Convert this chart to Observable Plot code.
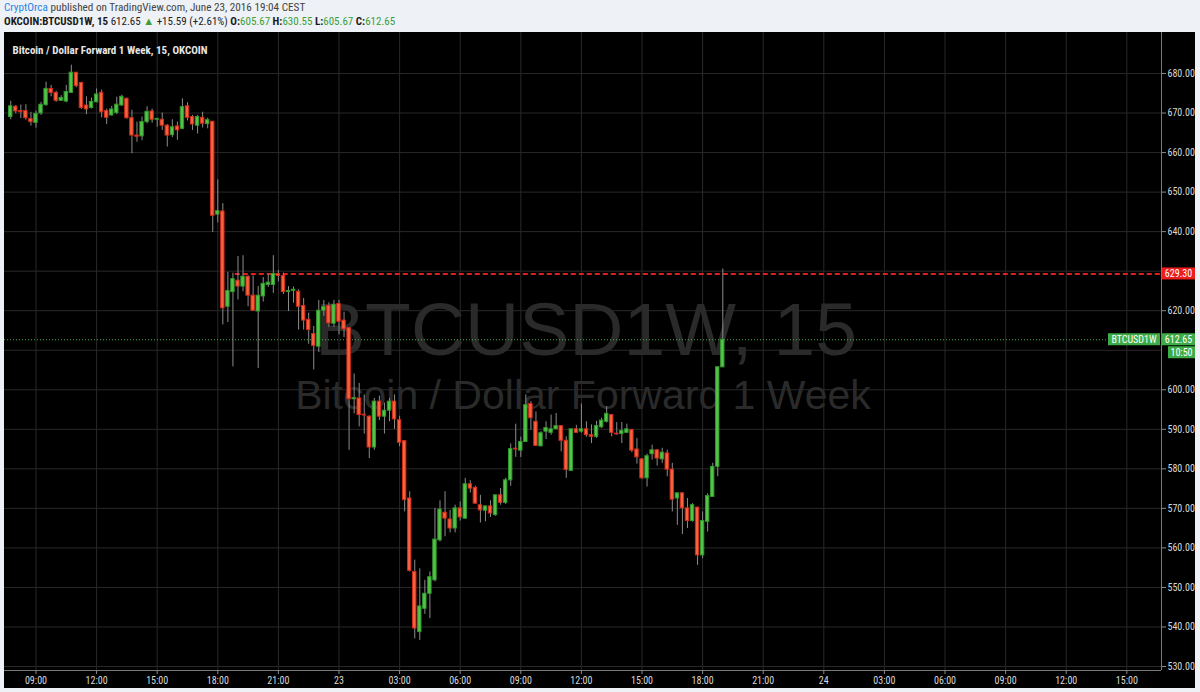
<!DOCTYPE html>
<html>
<head>
<meta charset="utf-8">
<script src="https://cdn.jsdelivr.net/npm/d3@7"></script>
<script src="https://cdn.jsdelivr.net/npm/@observablehq/plot@0.6"></script>
<style>
html,body{margin:0;padding:0;width:1200px;height:692px;overflow:hidden;background:#eef1f5;
  font-family:"Liberation Sans Narrow","Roboto Condensed","Arial Narrow",Roboto,sans-serif;}
#hdr1{position:absolute;left:4px;top:1px;font-size:11.2px;line-height:14px;color:#444;white-space:nowrap;}
#hdr2{position:absolute;left:4px;top:15px;font-size:11px;line-height:14px;color:#222;white-space:nowrap;}
#chart{position:absolute;left:4px;top:32px;width:1191px;height:656px;background:#000;}
.b{font-weight:bold;color:#1a1a1a}
.g{color:#3a9f3a}
.u{color:#1e88e5}
</style>
</head>
<body>
<div id="hdr1"><span class="u">CryptOrca</span> published on TradingView.com, June 23, 2016 19:04 CEST</div>
<div id="hdr2"><span class="b">OKCOIN:BTCUSD1W, 15</span> 612.65 <span class="g">&#9650;</span> +15.59 (+2.61%) <span class="b">O:</span><span class="g">605.67</span> <span class="b">H:</span><span class="g">630.55</span> <span class="b">L:</span><span class="g">605.67</span> <span class="b">C:</span><span class="g">612.65</span></div>
<div id="chart"></div>
<script>
// ---------- data (15-minute candles, OKCOIN BTCUSD1W) ----------
const startTime = "2016-06-22T07:45:00Z";
const barMinutes = 15;

const opens = [
  669.0, 671.6, 670.5, 670.5, 668.5, 667.5, 669.9, 672.0, 676.1, 675.1, 673.1, 672.9, 675.1, 680.2, 677.6, 671.9,
  671.3, 672.7, 675.1, 670.5, 669.4, 670.0, 671.9, 673.6, 668.7, 664.3, 664.1, 667.7, 670.4, 668.3, 668.3, 666.8,
  664.4, 666.6, 666.0, 671.7, 669.0, 666.8, 668.8, 667.2, 667.8, 644.3, 645.1, 621.0, 624.7, 627.6, 626.1, 628.6,
  623.8, 619.8, 623.6, 626.5, 626.5, 629.3, 628.8, 624.7, 625.0, 624.8, 621.2, 617.7, 614.1, 610.9, 620.0, 621.2, 616.7,
  621.7, 617.5, 615.6, 597.6, 597.8, 593.7, 593.2, 585.4, 597.0, 593.2, 594.7, 597.0, 592.3, 587.0, 572.5, 553.9,
  538.7, 544.6, 548.4, 551.8, 561.9, 568.9, 567.2, 564.9, 570.0, 567.4, 576.1, 575.2, 570.8, 569.4, 570.5, 568.3,
  573.3, 571.4, 577.1, 585.1, 584.6, 586.8, 596.4, 591.9, 585.7, 589.4, 589.1, 590.0, 590.8, 587.1, 579.5, 590.0,
  589.4, 590.0, 588.5, 588.1, 590.5, 591.9, 593.6, 588.9, 588.8, 589.1, 589.8, 584.9, 582.4, 577.6, 583.7, 584.7,
  582.4, 583.9, 579.8, 572.5, 573.8, 570.0, 566.8, 570.2, 558.1, 566.6, 572.9, 580.5, 605.67
];
const highs = [
  673.0, 671.9, 672.0, 672.1, 670.2, 670.5, 672.7, 677.8, 677.0, 675.5, 674.4, 677.0, 682.1, 680.2, 677.8, 674.1,
  673.8, 676.1, 675.8, 671.0, 671.7, 674.0, 674.5, 673.8, 670.7, 667.7, 669.0, 671.6, 671.0, 668.7, 670.0, 667.1,
  668.3, 667.7, 673.6, 672.6, 669.4, 669.4, 670.2, 668.7, 667.8, 653.1, 647.1, 629.7, 629.5, 633.7, 633.9, 628.8,
  628.8, 626.1, 628.4, 629.1, 633.9, 630.2, 629.5, 626.1, 626.0, 625.3, 623.1, 619.4, 616.0, 622.6, 622.6, 622.0, 622.6,
  622.6, 619.6, 615.6, 604.0, 601.6, 598.7, 593.4, 597.8, 598.4, 596.6, 597.8, 598.7, 593.3, 587.0, 574.2, 556.9,
  554.7, 551.8, 553.9, 570.0, 571.9, 574.2, 569.5, 570.8, 571.6, 577.6, 577.0, 575.6, 573.3, 570.5, 571.9, 573.3,
  575.0, 577.6, 586.3, 591.3, 588.0, 598.7, 597.0, 594.4, 589.4, 591.9, 593.6, 594.0, 590.8, 588.1, 590.0, 591.0,
  596.4, 591.9, 591.1, 592.0, 592.8, 595.7, 593.6, 591.7, 591.7, 591.3, 590.0, 587.7, 582.6, 583.7, 586.0, 584.9,
  585.2, 584.7, 581.4, 573.8, 574.0, 572.5, 571.2, 570.2, 569.1, 573.7, 581.4, 605.7, 630.55
];
const lows = [
  668.3, 669.8, 668.6, 668.2, 666.7, 666.2, 669.4, 671.7, 674.1, 672.7, 673.0, 672.6, 675.0, 676.4, 670.9, 669.6,
  671.0, 672.7, 668.8, 667.1, 669.2, 669.6, 671.7, 668.4, 659.7, 662.6, 663.0, 667.3, 667.4, 666.4, 665.6, 661.4,
  663.8, 663.1, 665.8, 668.0, 665.6, 664.7, 666.2, 666.0, 639.8, 642.2, 616.4, 617.0, 605.8, 622.7, 624.8, 621.0,
  619.8, 605.4, 622.2, 625.9, 624.4, 627.3, 624.1, 619.8, 621.9, 615.1, 615.1, 611.5, 605.0, 609.4, 618.6, 615.8, 615.8,
  613.9, 613.2, 584.7, 593.9, 590.6, 588.8, 582.6, 584.7, 592.2, 588.8, 591.9, 590.0, 585.6, 569.1, 553.9, 537.0,
  536.6, 543.2, 542.1, 551.4, 561.5, 562.8, 563.8, 563.8, 566.8, 567.2, 573.9, 571.0, 566.3, 566.6, 567.7, 568.0,
  570.8, 571.0, 575.6, 582.9, 582.9, 586.8, 589.8, 585.8, 585.6, 587.4, 588.5, 590.0, 584.3, 577.6, 579.5, 589.1,
  589.0, 588.0, 586.4, 587.7, 590.2, 591.6, 588.1, 588.5, 586.4, 589.0, 584.1, 581.2, 577.3, 575.4, 582.2, 580.7,
  581.4, 578.0, 569.1, 565.7, 563.4, 564.9, 566.5, 555.6, 557.3, 564.0, 572.9, 578.0, 605.67
];
const closes = [
  671.7, 670.4, 670.2, 668.7, 667.7, 669.8, 672.1, 676.1, 675.1, 673.1, 673.8, 675.3, 680.2, 676.8, 671.3, 670.9,
  672.8, 674.7, 670.2, 668.8, 670.9, 672.1, 674.1, 668.7, 664.3, 664.0, 667.7, 670.3, 668.3, 668.5, 666.8, 664.3,
  666.4, 665.6, 671.5, 668.8, 667.1, 669.0, 667.3, 668.2, 644.0, 645.2, 620.6, 625.0, 628.0, 626.1, 628.6, 623.8,
  620.0, 623.8, 626.8, 627.1, 629.3, 628.8, 624.7, 625.0, 625.3, 621.0, 617.5, 615.1, 611.1, 620.0, 620.9, 616.8, 621.5,
  617.2, 615.3, 597.6, 597.9, 593.6, 593.5, 585.4, 597.0, 593.2, 594.7, 597.0, 592.5, 586.6, 572.1, 554.2, 539.6,
  545.2, 548.4, 552.6, 562.1, 569.7, 567.4, 564.9, 570.0, 567.7, 576.1, 575.0, 571.2, 569.5, 570.5, 568.7, 573.3,
  571.4, 577.1, 585.0, 584.9, 586.8, 596.1, 592.8, 585.8, 589.0, 590.3, 590.0, 590.8, 587.1, 579.7, 590.0, 589.1,
  590.0, 588.5, 588.1, 590.8, 592.2, 593.9, 589.1, 588.7, 589.6, 590.0, 584.6, 582.9, 577.6, 583.2, 584.7, 582.6,
  584.1, 579.8, 572.2, 573.8, 570.0, 566.8, 570.8, 558.1, 566.8, 573.1, 580.5, 605.7, 612.65
];

const yTicks = [530, 540, 550, 560, 570, 580, 590, 600, 610, 620, 630, 640, 650, 660, 670, 680];
const xTickTimes = [
  "2016-06-22T09:00Z","2016-06-22T12:00Z","2016-06-22T15:00Z","2016-06-22T18:00Z","2016-06-22T21:00Z",
  "2016-06-23T00:00Z","2016-06-23T03:00Z","2016-06-23T06:00Z","2016-06-23T09:00Z","2016-06-23T12:00Z",
  "2016-06-23T15:00Z","2016-06-23T18:00Z","2016-06-23T21:00Z",
  "2016-06-24T00:00Z","2016-06-24T03:00Z","2016-06-24T06:00Z","2016-06-24T09:00Z","2016-06-24T12:00Z","2016-06-24T15:00Z"
];
const xTickLabels = ["09:00","12:00","15:00","18:00","21:00","23","03:00","06:00","09:00","12:00","15:00","18:00","21:00",
  "24","03:00","06:00","09:00","12:00","15:00"];

const lastPrice = 612.65;
const levelPrice = 629.30;
const levelStart = "2016-06-22T18:52:00Z";
const symbol = "BTCUSD1W";
const countdown = "10:50";
const paneTitle = "Bitcoin / Dollar Forward 1 Week, 15, OKCOIN";
const watermark1 = "BTCUSD1W, 15";
const watermark2 = "Bitcoin / Dollar Forward 1 Week";

// ---------- build ----------
const NARROW = '"Liberation Sans Narrow","Roboto Condensed","Arial Narrow",Roboto,sans-serif';
const WIDE = '"Liberation Sans",Arial,sans-serif';
const t0 = new Date(startTime).getTime();
const bars = opens.map((o, i) => ({
  t: new Date(t0 + i * barMinutes * 60000), open: o, high: highs[i], low: lows[i], close: closes[i]
}));
const halfBody = 5 * 60000;
const xDomain = [new Date("2016-06-22T07:26:30Z"), new Date("2016-06-24T16:43:00Z")];
const yDomain = [528.99, 690.37];
const xTicks = xTickTimes.map(s => new Date(s));
const labelOf = new Map(xTicks.map((d, i) => [+d, xTickLabels[i]]));
const isUp = d => d.close >= d.open;
// scale labels hidden under the price tags (as in the reference)
const yLabelTicks = yTicks.filter(v => Math.abs(v - levelPrice) > 2 && Math.abs(v - lastPrice) > 3.5);

const plot = Plot.plot({
  width: 1191, height: 656,
  marginLeft: 0, marginRight: 34, marginTop: 0, marginBottom: 18,
  style: {background: "#000", color: "#d8d8d8", fontFamily: NARROW, fontSize: "10px", overflow: "visible"},
  x: {type: "utc", domain: xDomain, label: null},
  y: {domain: yDomain, label: null},
  marks: [
    Plot.gridY(yTicks, {stroke: "#292929", strokeOpacity: 1}),
    Plot.gridX(xTicks, {stroke: "#292929", strokeOpacity: 1}),
    Plot.text([watermark1], {text: d => d, frameAnchor: "middle", dx: 3, dy: -21, fontSize: 75,
      fontFamily: WIDE, fill: "#2a2a2a"}),
    Plot.text([watermark2], {text: d => d, frameAnchor: "middle", dx: 0, dy: 44, fontSize: 41,
      fontFamily: WIDE, fill: "#2a2a2a"}),
    Plot.text([paneTitle], {text: d => d, frameAnchor: "top-left", dx: 8, dy: 14, textAnchor: "start",
      fontWeight: "bold", fontSize: 11, fill: "#e6e6e6"}),
    Plot.ruleY([lastPrice], {stroke: "#4caf50", strokeDasharray: "1,2"}),
    Plot.ruleY([levelPrice], {x1: new Date(levelStart), x2: xDomain[1], stroke: "#e21f1f",
      strokeWidth: 2, strokeDasharray: "5,3"}),
    Plot.ruleX(bars, {x: "t", y1: "low", y2: "high", stroke: "#8c8c8c"}),
    Plot.rect(bars, {
      x1: d => new Date(+d.t - halfBody), x2: d => new Date(+d.t + halfBody),
      y1: "open", y2: "close",
      fill: d => isUp(d) ? "#57c24b" : "#f2653f",
      stroke: d => isUp(d) ? "#2f9a2b" : "#d62a1a"
    }),
    Plot.ruleX([xDomain[1]], {stroke: "#7a7a7a"}),
    Plot.ruleY([yDomain[0]], {stroke: "#7a7a7a"}),
    Plot.axisY(yLabelTicks, {anchor: "right", label: null, tickSize: 4, tickPadding: 2,
      tickFormat: d => d.toFixed(2), stroke: "#8a8a8a", fill: "#d8d8d8", fontSize: 10}),
    Plot.axisX(xTicks, {anchor: "bottom", label: null, tickSize: 4, tickPadding: 2,
      tickFormat: d => labelOf.get(+d), stroke: "#8a8a8a", fill: "#d8d8d8", fontSize: 10})
  ]
});

// price tags on the right scale
const svg = d3.select(plot);
const ys = plot.scale("y");
const xRight = plot.scale("x").apply(xDomain[1]);
function tag(x, w, yc, h, bg, label) {
  const g = svg.append("g");
  g.append("rect").attr("x", x).attr("y", yc - h / 2).attr("width", w).attr("height", h).attr("fill", bg);
  g.append("text").attr("x", x + w / 2).attr("y", yc).attr("dy", "0.35em").attr("text-anchor", "middle")
    .attr("fill", "#fff").attr("font-size", 10).attr("font-family", NARROW).text(label);
}
tag(xRight + 1, 33, ys.apply(levelPrice), 12, "#ee1c1c", levelPrice.toFixed(2));
tag(xRight - 53, 52, ys.apply(lastPrice), 12, "#3dab47", symbol);
tag(xRight + 1, 33, ys.apply(lastPrice), 12, "#3dab47", lastPrice.toFixed(2));
tag(xRight + 7, 27, ys.apply(lastPrice) + 13, 12, "#3dab47", countdown);

document.getElementById("chart").appendChild(plot);
</script>
</body>
</html>
